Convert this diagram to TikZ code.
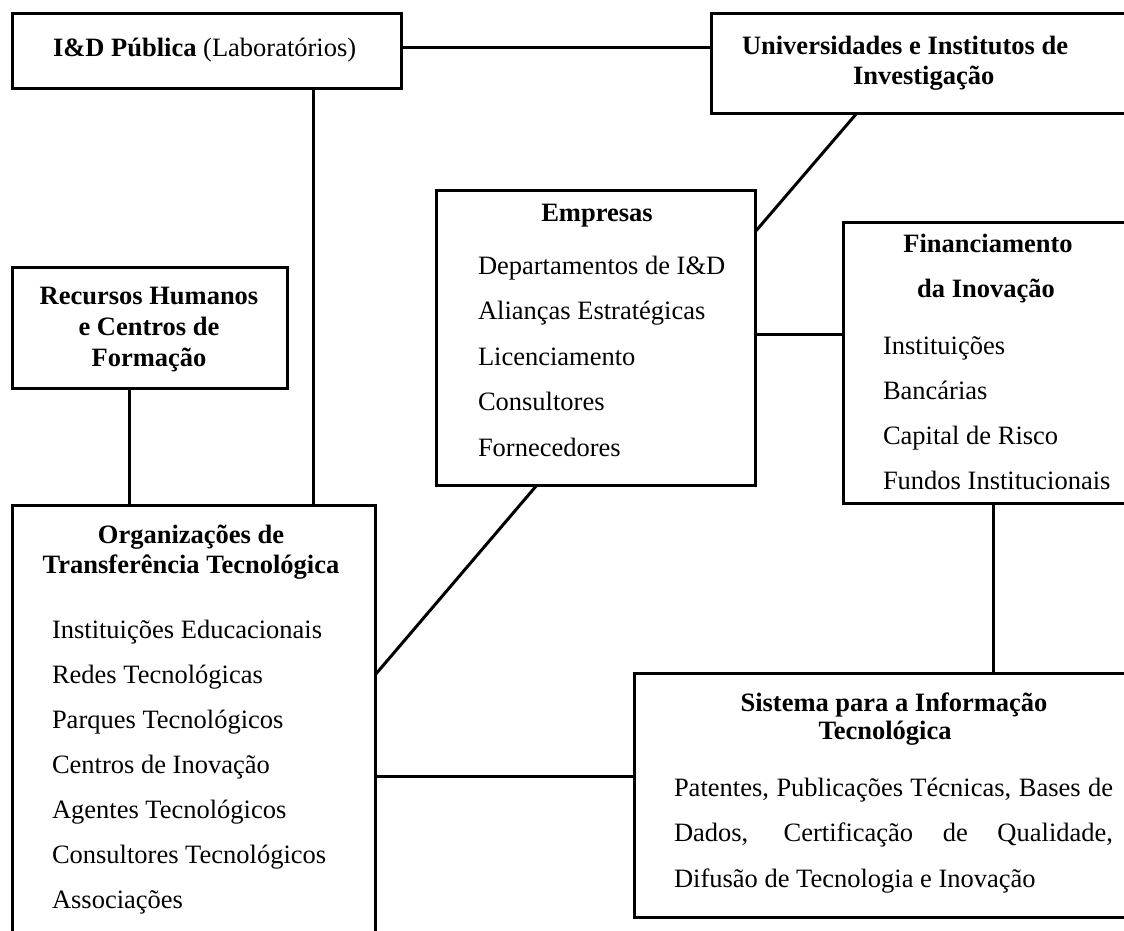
\documentclass[tikz,border=0pt]{standalone}
\usepackage{fontspec}
\setmainfont{Liberation Serif}
\begin{document}
\begin{tikzpicture}[x=1pt,y=-1pt,
  box/.style={draw, line width=3pt, outer sep=0pt, inner sep=0pt, anchor=north west},
  link/.style={line width=3pt},
  txt/.style={inner sep=0pt, outer sep=0pt, font=\fontsize{26.5}{30}\selectfont},
  head/.style={txt, font=\fontsize{26.5}{30}\selectfont\bfseries, anchor=base},
  item/.style={txt, anchor=base west},
]
\fill[white] (0,0) rectangle (1124,930);
\useasboundingbox (0,0) rectangle (1124,930);
\clip (0,0) rectangle (1124,930);

% boxes
\node[box, minimum width=389pt, minimum height=75pt]  (idp)  at (12,13)   {};
\node[box, minimum width=430pt, minimum height=100pt] (univ) at (711,13)  {};
\node[box, minimum width=319pt, minimum height=295pt] (emp)  at (436,190) {};
\node[box, minimum width=300pt, minimum height=281pt] (fin)  at (843,222) {};
\node[box, minimum width=275pt, minimum height=121pt] (rh)   at (12,267)  {};
\node[box, minimum width=363pt, minimum height=450pt] (ott)  at (12,505)  {};
\node[box, minimum width=510pt, minimum height=244pt] (sis)  at (634,673) {};

% I&D Pública
\node[txt, anchor=base west] (idpT) at (53,56) {\textbf{I\&D Pública} (Laboratórios)};

% Universidades
\node[head, anchor=base west] (univT1) at (742,54) {Universidades e Institutos de};
\node[head, anchor=base west] (univT2) at (853,84) {Investigação};

% Empresas
\node[head] (empT) at (597,221) {Empresas};
\node[item] (emp1) at (478,274)   {Departamentos de I\&D};
\node[item] (emp2) at (478,319.5) {Alianças Estratégicas};
\node[item] (emp3) at (478,365)   {Licenciamento};
\node[item] (emp4) at (478,410.5) {Consultores};
\node[item] (emp5) at (478,456)   {Fornecedores};

% Financiamento
\node[head] (finT1) at (988,252) {Financiamento};
\node[head] (finT2) at (986,297) {da Inovação};
\node[item] (fin1) at (883,354) {Instituições};
\node[item] (fin2) at (883,399) {Bancárias};
\node[item] (fin3) at (883,444) {Capital de Risco};
\node[item] (fin4) at (883,489) {Fundos Institucionais};

% Recursos Humanos
\node[head] (rhT1) at (149,304) {Recursos Humanos};
\node[head] (rhT2) at (149,335) {e Centros de};
\node[head] (rhT3) at (149,366) {Formação};

% Organizações de Transferência Tecnológica
\node[head] (ottT1) at (191,543) {Organizações de};
\node[head] (ottT2) at (191,573) {Transferência Tecnológica};
\node[item] (ott1) at (52,638) {Instituições Educacionais};
\node[item] (ott2) at (52,683) {Redes Tecnológicas};
\node[item] (ott3) at (52,728) {Parques Tecnológicos};
\node[item] (ott4) at (52,773) {Centros de Inovação};
\node[item] (ott5) at (52,818) {Agentes Tecnológicos};
\node[item] (ott6) at (52,863) {Consultores Tecnológicos};
\node[item] (ott7) at (52,908) {Associações};

% Sistema para a Informação Tecnológica
\node[head] (sisT1) at (894,711) {Sistema para a Informação};
\node[head] (sisT2) at (885,739) {Tecnológica};
\node[item] (sis1) at (674,796) {\makebox[439pt][s]{Patentes, Publicações Técnicas, Bases de}};
\node[item] (sis2) at (674,841) {\makebox[439pt][s]{Dados, Certificação de Qualidade,}};
\node[item] (sis3) at (674,887) {Difusão de Tecnologia e Inovação};

% connectors
\draw[link] ([yshift=3pt]idp.east) -- ([yshift=3pt]idp.east -| univ.west);
\draw[link] ([xshift=301pt]idp.south west) -- ([xshift=301pt]idp.south west |- ott.north);
\draw[link] ([xshift=-20pt]rh.south) -- ([xshift=-20pt]rh.south |- ott.north);
\draw[link] ([xshift=146pt]univ.south west) -- ([yshift=-42pt]emp.north east);
\draw[link] ([yshift=3pt]emp.east) -- ([yshift=3pt]emp.east -| fin.west);
\draw[link] ([xshift=101pt]emp.south west) -- ([yshift=-170pt]ott.north east);
\draw[link] ([xshift=150pt]fin.south west) -- ([xshift=150pt]fin.south west |- sis.north);
\draw[link] ([yshift=-271pt]ott.north east) -- ([yshift=-271pt]ott.north east -| sis.west);
\end{tikzpicture}
\end{document}
